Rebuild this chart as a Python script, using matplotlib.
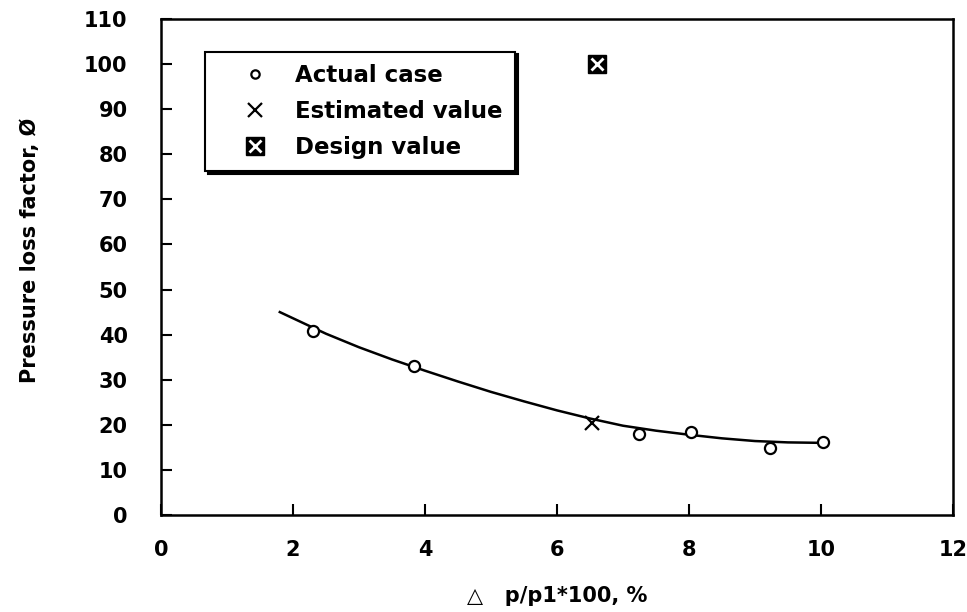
import matplotlib
matplotlib.use("Agg")
import matplotlib.pyplot as plt

# ------------------------------------------------------------------ data
actual_x = [2.30, 3.83, 7.24, 8.03, 9.23, 10.03]
actual_y = [40.8, 33.0, 18.0, 18.4, 14.9, 16.2]

est_x = [6.53]
est_y = [20.4]

design_x = [6.6]
design_y = [100.0]

# fitted curve, traced
curve_x = [1.8, 2.5, 3.0, 3.5, 4.0, 4.5, 5.0, 5.5, 6.0, 6.5, 7.0, 7.5, 8.0, 8.5, 9.0, 9.5, 10.0]
curve_y = [45.0, 40.2, 37.2, 34.5, 32.0, 29.6, 27.3, 25.2, 23.2, 21.4, 19.8, 18.7, 17.8, 17.0, 16.4, 16.1, 16.0]

x_ticks = [0, 2, 4, 6, 8, 10, 12]
y_ticks = list(range(0, 111, 10))

# ------------------------------------------------------------------ style
plt.rcParams['font.family'] = ['DejaVu Sans']
plt.rcParams['font.weight'] = 'bold'

fig = plt.figure(figsize=(9.67, 6.12), dpi=100)
ax = fig.add_axes([0.1665, 0.1585, 0.819, 0.8105])

ax.plot(curve_x, curve_y, color='black', lw=1.8, zorder=2)
h_act, = ax.plot(actual_x, actual_y, 'o', ms=8, mfc='white', mec='black', mew=1.6,
                 ls='none', zorder=3)
h_est, = ax.plot(est_x, est_y, 'x', ms=10, mec='black', mew=1.6, ls='none', zorder=3)
h_sq, = ax.plot(design_x, design_y, 's', ms=13, mfc='black', mec='black', ls='none', zorder=3)
h_sqx, = ax.plot(design_x, design_y, 'x', ms=9, mec='white', mew=2.0, ls='none', zorder=4)

ax.set_xlim(0, 12)
ax.set_ylim(0, 110)
ax.set_xticks(x_ticks)
ax.set_yticks(y_ticks)
ax.tick_params(direction='in', length=8, width=1.5, labelsize=15)
ax.tick_params(axis='y', pad=24)
ax.tick_params(axis='x', pad=18)
for s in ax.spines.values():
    s.set_linewidth(1.8)

ax.set_xlabel("\u25b3   p/p1*100, %", fontsize=15, fontweight='bold', labelpad=19)
ax.set_ylabel("Pressure loss factor, \u00d8", fontsize=15, fontweight='bold')
ax.yaxis.set_label_coords(-0.153, 0.534)

leg = ax.legend([h_act, h_est, (h_sq, h_sqx)],
                ["Actual case", "Estimated value", "Design value"],
                loc='upper left', bbox_to_anchor=(0.056, 0.934), borderaxespad=0,
                frameon=True, fancybox=False, edgecolor='black',
                shadow={'color': 'black', 'alpha': 1}, handlelength=3.2,
                handletextpad=0.15, labelspacing=0.55, borderpad=0.55,
                prop={'weight': 'bold', 'size': 16.5})
leg.get_frame().set_linewidth(1.5)
# smaller markers inside the legend box
leg.legend_handles[0].set_markersize(6)
leg.legend_handles[1].set_markersize(10)

fig.savefig("out.png", dpi=100)
